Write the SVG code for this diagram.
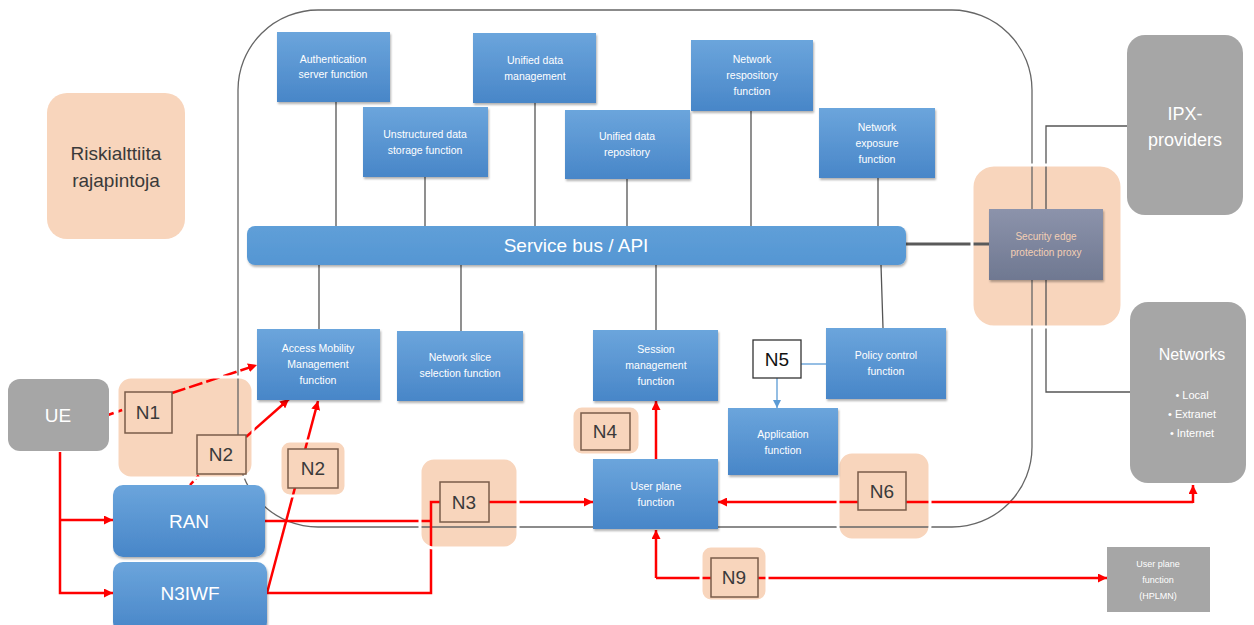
<svg xmlns="http://www.w3.org/2000/svg" width="1254" height="625" viewBox="0 0 1254 625">
<defs>
<linearGradient id="gBlue" x1="0" y1="0" x2="0" y2="1"><stop offset="0" stop-color="#6ba5dc"/><stop offset="1" stop-color="#4886c8"/></linearGradient>
<linearGradient id="gBus" x1="0" y1="0" x2="0" y2="1"><stop offset="0" stop-color="#5f9fd8"/><stop offset="1" stop-color="#5596d3"/></linearGradient>
<linearGradient id="gSepp" x1="0" y1="0" x2="0" y2="1"><stop offset="0" stop-color="#8c93ab"/><stop offset="1" stop-color="#6f7891"/></linearGradient>
<filter id="sh" x="-10%" y="-10%" width="125%" height="130%"><feDropShadow dx="1" dy="2" stdDeviation="1.3" flood-color="#000" flood-opacity="0.3"/></filter>
<marker id="ar" viewBox="0 0 10 10" refX="10" refY="5" markerWidth="9" markerHeight="9" markerUnits="userSpaceOnUse" orient="auto"><path d="M0,0 L10,5 L0,10 z" fill="#ff0000"/></marker>
<marker id="ab" viewBox="0 0 10 10" refX="10" refY="5" markerWidth="8" markerHeight="8" markerUnits="userSpaceOnUse" orient="auto"><path d="M0,0 L10,5 L0,10 z" fill="#5b9bd5"/></marker>
</defs>
<style>
.blue{fill:url(#gBlue);filter:url(#sh)}
.gray{fill:#a6a6a6}
.hl{fill:#f8d5bc}
.hle{fill:none;stroke:#ffffff;stroke-width:3}
.nb{fill:#f8d5bc;stroke:#7a5c4a;stroke-width:1.5}
.bt{font-family:"Liberation Sans",Arial,sans-serif;font-size:10.5px;fill:#ffffff;text-anchor:middle}
.big{font-family:"Liberation Sans",Arial,sans-serif;font-size:19px;fill:#ffffff;text-anchor:middle}
.nt{font-family:"Liberation Sans",Arial,sans-serif;font-size:19px;fill:#3a3a3a;text-anchor:middle}
.gl{fill:none;stroke:#555555;stroke-width:1.3}
.rl{fill:none;stroke:#ff0000;stroke-width:2.5}
.bl{fill:none;stroke:#5b9bd5;stroke-width:1.3}
</style>
<rect width="1254" height="625" fill="#ffffff"/>

<g id="legend">
<rect class="hl" x="47" y="93" width="138" height="146" rx="20"/>
<text class="nt" x="116" y="160">Riskialttiita</text>
<text class="nt" x="116" y="187">rajapintoja</text>
</g>

<g id="highlights">
<rect class="hl" x="117" y="377" width="136" height="101" rx="14"/>
<rect class="hl" x="280" y="441" width="66" height="55" rx="10"/>
<rect class="hl" x="420" y="458" width="98" height="90" rx="14"/>
<rect class="hl" x="572" y="406" width="68" height="49" rx="10"/>
<rect class="hl" x="838" y="452" width="92" height="88" rx="14"/>
<rect class="hl" x="701" y="546" width="66" height="55" rx="10"/>
<rect class="hl" x="972" y="165" width="150" height="162" rx="22"/>
</g>

<g id="core-boundary">
<rect x="238" y="10" width="794" height="517" rx="80" fill="none" stroke="#666666" stroke-width="1.3"/>
</g>

<g id="connectors">
<path class="gl" d="M336,102 V226 M425,177 V226 M535,103 V226 M627,179 V226 M751,111 V226 M878,178 V226"/>
<path class="gl" d="M319,265 V329 M461,265 V331 M656,265 V330 M881,265 L883,328"/>
<path d="M906,244 H989" fill="none" stroke="#5a5a5a" stroke-width="3"/>
<path class="gl" d="M1046,209 V126 H1127 M1046,280 V392 H1130"/>
<path class="rl" d="M60,452 V593 H113" marker-end="url(#ar)"/>
<path class="rl" d="M60,520 H113" marker-end="url(#ar)"/>
<path class="rl" d="M108,415 L125,409" stroke-dasharray="6,3"/>
<path class="rl" d="M172,393 L257,365" stroke-dasharray="14,4" marker-end="url(#ar)"/>
<path class="rl" d="M190,485 L200,474" stroke-dasharray="5,3"/>
<path class="rl" d="M246,437 L289,399" marker-end="url(#ar)"/>
<path class="rl" d="M267,593 L318,401" marker-end="url(#ar)"/>
<path class="rl" d="M265,521 H431"/>
<path class="rl" d="M267,593 H431 V502 H440"/>
<path class="rl" d="M489,502 H593" marker-end="url(#ar)"/>
<path class="rl" d="M656,459 V401" marker-end="url(#ar)"/>
<path class="rl" d="M1193,502 H718" marker-end="url(#ar)"/>
<path class="rl" d="M1193,503 V485" marker-end="url(#ar)"/>
<path class="rl" d="M656,578 V530" marker-end="url(#ar)"/>
<path class="rl" d="M656,578 H1107" marker-end="url(#ar)"/>
<path class="bl" d="M801,364 H826"/>
<path class="bl" d="M777,378 V408" marker-end="url(#ab)"/>
</g>

<g id="highlight-edges">
<rect class="hle" x="117" y="377" width="136" height="101" rx="14"/>
<rect class="hle" x="280" y="441" width="66" height="55" rx="10"/>
<rect class="hle" x="420" y="458" width="98" height="90" rx="14"/>
<rect class="hle" x="572" y="406" width="68" height="49" rx="10"/>
<rect class="hle" x="838" y="452" width="92" height="88" rx="14"/>
<rect class="hle" x="701" y="546" width="66" height="55" rx="10"/>
<rect class="hle" x="972" y="165" width="150" height="162" rx="22"/>
</g>

<g id="service-bus">
<rect x="247" y="226" width="659" height="39" rx="8" fill="url(#gBus)" filter="url(#sh)"/>
<text class="big" x="576" y="252" style="font-size:19px">Service bus / API</text>
</g>

<g id="ausf"><rect class="blue" x="277" y="32" width="113" height="70"/>
<text class="bt" x="333" y="63">Authentication</text><text class="bt" x="333" y="78">server function</text></g>
<g id="udsf"><rect class="blue" x="363" y="107" width="125" height="70"/>
<text class="bt" x="425" y="138">Unstructured data</text><text class="bt" x="425" y="154">storage function</text></g>
<g id="udm"><rect class="blue" x="473" y="33" width="123" height="70"/>
<text class="bt" x="535" y="64">Unified data</text><text class="bt" x="535" y="80">management</text></g>
<g id="udr"><rect class="blue" x="565" y="110" width="125" height="69"/>
<text class="bt" x="627" y="140">Unified data</text><text class="bt" x="627" y="156">repository</text></g>
<g id="nrf"><rect class="blue" x="691" y="40" width="122" height="71"/>
<text class="bt" x="752" y="63">Network</text><text class="bt" x="752" y="79">respository</text><text class="bt" x="752" y="95">function</text></g>
<g id="nef"><rect class="blue" x="819" y="108" width="116" height="70"/>
<text class="bt" x="877" y="131">Network</text><text class="bt" x="877" y="147">exposure</text><text class="bt" x="877" y="163">function</text></g>
<g id="amf"><rect class="blue" x="257" y="329" width="123" height="71"/>
<text class="bt" x="318" y="352">Access Mobility</text><text class="bt" x="318" y="368">Management</text><text class="bt" x="318" y="384">function</text></g>
<g id="nssf"><rect class="blue" x="397" y="331" width="126" height="70"/>
<text class="bt" x="460" y="361">Network slice</text><text class="bt" x="460" y="377">selection function</text></g>
<g id="smf"><rect class="blue" x="593" y="330" width="125" height="71"/>
<text class="bt" x="656" y="353">Session</text><text class="bt" x="656" y="369">management</text><text class="bt" x="656" y="385">function</text></g>
<g id="pcf"><rect class="blue" x="826" y="328" width="120" height="71"/>
<text class="bt" x="886" y="359">Policy control</text><text class="bt" x="886" y="375">function</text></g>
<g id="af"><rect class="blue" x="728" y="408" width="110" height="67"/>
<text class="bt" x="783" y="438">Application</text><text class="bt" x="783" y="454">function</text></g>
<g id="upf"><rect class="blue" x="593" y="459" width="125" height="70"/>
<text class="bt" x="656" y="490">User plane</text><text class="bt" x="656" y="506">function</text></g>

<g id="ue"><rect class="gray" x="8" y="379" width="101" height="72" rx="12"/>
<text class="big" x="58" y="422">UE</text></g>
<g id="ran"><rect class="blue" x="113" y="485" width="152" height="72" rx="10"/>
<text class="big" x="189" y="528">RAN</text></g>
<g id="n3iwf"><rect class="blue" x="113" y="562" width="154" height="70" rx="10"/>
<text class="big" x="190" y="600">N3IWF</text></g>

<g id="sepp"><rect x="989" y="209" width="114" height="71" fill="url(#gSepp)" filter="url(#sh)"/>
<text class="bt" x="1046" y="240" style="fill:#f3cfb4;font-size:10px">Security edge</text>
<text class="bt" x="1046" y="256" style="fill:#f3cfb4;font-size:10px">protection proxy</text></g>
<g id="ipx"><rect class="gray" x="1127" y="35" width="116" height="180" rx="18"/>
<text class="big" x="1185" y="120" style="font-size:18px">IPX-</text><text class="big" x="1185" y="146" style="font-size:18px">providers</text></g>
<g id="networks"><rect class="gray" x="1130" y="302" width="116" height="181" rx="18"/>
<text class="big" x="1192" y="360" style="font-size:16px">Networks</text>
<text class="bt" x="1192" y="399" style="font-size:11px">•  Local</text>
<text class="bt" x="1192" y="418" style="font-size:11px">•  Extranet</text>
<text class="bt" x="1192" y="437" style="font-size:11px">•  Internet</text></g>
<g id="upf-hplmn"><rect class="gray" x="1107" y="547" width="103" height="65"/>
<text class="bt" x="1158" y="567" style="font-size:9px">User plane</text>
<text class="bt" x="1158" y="583" style="font-size:9px">function</text>
<text class="bt" x="1158" y="599" style="font-size:9px">(HPLMN)</text></g>

<g id="n1"><rect class="nb" x="125" y="392" width="47" height="41"/><text class="nt" x="148" y="419">N1</text></g>
<g id="n2a"><rect class="nb" x="197" y="435" width="49" height="39"/><text class="nt" x="221" y="461">N2</text></g>
<g id="n2b"><rect class="nb" x="288" y="449" width="50" height="39"/><text class="nt" x="313" y="475">N2</text></g>
<g id="n3"><rect class="nb" x="440" y="482" width="49" height="40"/><text class="nt" x="464" y="509">N3</text></g>
<g id="n4"><rect class="nb" x="581" y="413" width="49" height="37"/><text class="nt" x="605" y="438">N4</text></g>
<g id="n5"><rect x="753" y="340" width="48" height="38" fill="#ffffff" stroke="#333333" stroke-width="1.3"/><text class="nt" x="777" y="366" style="fill:#111">N5</text></g>
<g id="n6"><rect class="nb" x="858" y="472" width="48" height="38"/><text class="nt" x="882" y="498">N6</text></g>
<g id="n9"><rect class="nb" x="711" y="558" width="47" height="39"/><text class="nt" x="734" y="584">N9</text></g>
</svg>
